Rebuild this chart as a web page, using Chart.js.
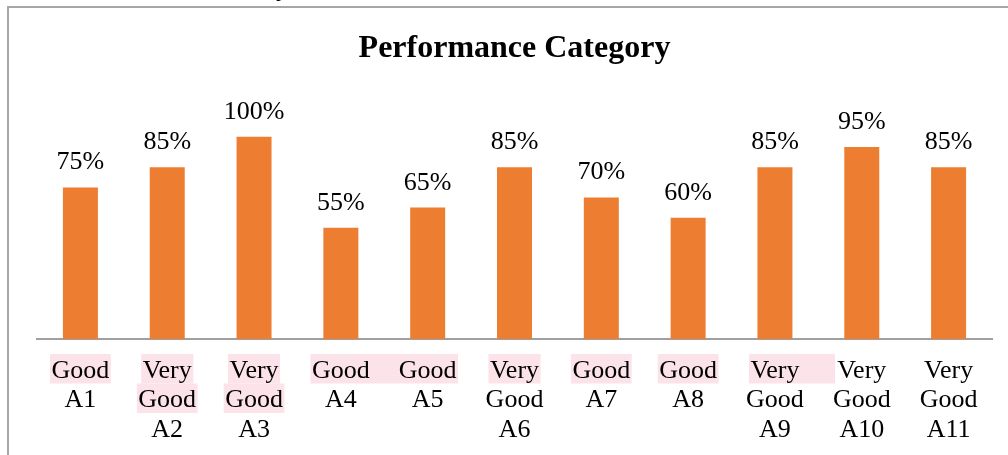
<!DOCTYPE html>
<html><head><meta charset="utf-8">
<script src="https://cdn.jsdelivr.net/npm/chart.js@4.4.1/dist/chart.umd.min.js"></script>
<style>
html,body{margin:0;padding:0;background:#fff;}
#wrap{position:relative;width:1008px;height:455px;overflow:hidden;background:#fff;}
#frame{position:absolute;left:7px;top:6px;width:1200px;height:600px;border-left:2px solid #a6a6a6;border-top:2px solid #a6a6a6;}
#frag{position:absolute;left:276px;top:-25px;font:26px/26px 'Liberation Serif';color:#000;white-space:nowrap;}
canvas{position:absolute;left:0;top:0;}
</style></head><body>
<div id="wrap"><div id="frame"></div><div id="frag">y,</div><canvas id="c" width="1008" height="455"></canvas></div>
<script>
// ---- data ----
const ids = ['A1','A2','A3','A4','A5','A6','A7','A8','A9','A10','A11'];
const ratings = ['Good','Very Good','Very Good','Good','Good','Very Good','Good','Good','Very Good','Very Good','Very Good'];
const scores = [0.75,0.85,1.00,0.55,0.65,0.85,0.70,0.60,0.85,0.95,0.85];
const titleText = 'Performance Category';

// ---- styling ----
const SERIF = "'Liberation Serif', 'Times New Roman', serif";
const TICK_SIZE = 26;
const TICK_LH = 29.5;
const TICK_PAD = 17;
const HL_SHIFT = -2;
const HL_COLOR = '#fce3ea';
// highlighted label lines: category range and line index
const highlightSpans = [
  {from:0,to:0,line:0},
  {from:1,to:1,line:0},{from:1,to:1,line:1},
  {from:2,to:2,line:0},{from:2,to:2,line:1},
  {from:3,to:4,line:0},
  {from:5,to:5,line:0},
  {from:6,to:6,line:0},
  {from:7,to:7,line:0},
  {from:8,to:8,line:0,extendRight:34}
];

const labels = ids.map((id,i) => [...ratings[i].split(' '), id]);

const highlightPlugin = {
  id:'hl',
  beforeDraw(chart){
    const ctx = chart.ctx, xs = chart.scales.x;
    ctx.save();
    ctx.font = TICK_SIZE + 'px ' + SERIF;
    ctx.fillStyle = HL_COLOR;
    const top0 = xs.top + TICK_PAD + HL_SHIFT;
    highlightSpans.forEach(s => {
      const wa = ctx.measureText(labels[s.from][s.line]).width;
      const wb = ctx.measureText(labels[s.to][s.line]).width;
      const x0 = xs.getPixelForTick(s.from) - wa/2 - 1.5;
      const x1 = xs.getPixelForTick(s.to) + wb/2 + 1.5 + (s.extendRight || 0);
      const y0 = top0 + s.line * TICK_LH;
      ctx.fillRect(x0, y0, x1 - x0, TICK_LH);
    });
    ctx.restore();
  }
};

const valueLabelPlugin = {
  id:'vl',
  afterDatasetsDraw(chart){
    const ctx = chart.ctx;
    const meta = chart.getDatasetMeta(0);
    ctx.save();
    ctx.font = '26px ' + SERIF;
    ctx.fillStyle = '#000';
    ctx.textAlign = 'center';
    ctx.textBaseline = 'alphabetic';
    meta.data.forEach((bar,i) => {
      ctx.fillText(Math.round(scores[i]*100) + '%', bar.x, bar.y - 18);
    });
    ctx.restore();
  }
};

new Chart(document.getElementById('c'), {
  type:'bar',
  data:{
    labels: labels,
    datasets:[{
      data: scores,
      backgroundColor:'#ed7d31',
      borderWidth:0,
      categoryPercentage:1,
      barPercentage:0.403
    }]
  },
  options:{
    responsive:false,
    animation:false,
    layout:{padding:{left:37,right:16,top:10,bottom:0}},
    plugins:{
      legend:{display:false},
      tooltip:{enabled:false},
      title:{
        display:true,
        text:titleText,
        color:'#000',
        font:{family:SERIF,size:32,weight:'bold',lineHeight:1.2},
        padding:{top:19.5,bottom:28.5}
      }
    },
    scales:{
      y:{display:false,min:0,max:1.2},
      x:{
        grid:{display:false,drawTicks:false,tickLength:0},
        border:{display:true,color:'#a0a0a0',width:2},
        ticks:{
          color:'#000',
          font:{family:SERIF,size:TICK_SIZE,lineHeight:TICK_LH/TICK_SIZE},
          padding:TICK_PAD,
          maxRotation:0,
          autoSkip:false
        },
        afterFit(scale){ scale.height = 455 - 339; }
      }
    }
  },
  plugins:[highlightPlugin, valueLabelPlugin]
});
</script>
</body></html>
